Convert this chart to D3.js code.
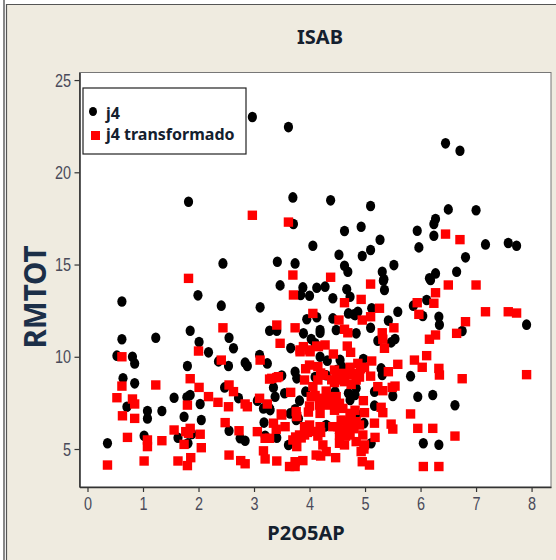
<!DOCTYPE html>
<html>
<head>
<meta charset="utf-8">
<script src="https://cdn.jsdelivr.net/npm/d3@7"></script>
<style>
  html, body { margin: 0; padding: 0; background: #fff; }
  svg { display: block; }
  .tick text { font-family: "Liberation Sans", sans-serif; font-size: 19px; fill: #4a4a5a; }
  .lab { font-family: "Noto Sans", "Open Sans", sans-serif; font-weight: 700; fill: #14202e; }
</style>
</head>
<body>
<main></main>
<script>
// P2O5AP, RMTOT pairs
const j4 = [
  [0.36,5.31],[0.62,13.0],[0.62,10.95],[0.53,10.06],[0.81,10.0],[0.85,9.64],[0.64,8.83],[0.85,8.56],[0.71,7.29],[1.08,7.06],
  [1.08,6.66],[1.34,7.06],[1.02,5.72],[1.23,11.03],[1.56,7.78],[1.63,5.61],[1.74,6.75],[1.80,9.5],[1.85,11.41],[1.85,7.93],
  [1.79,7.8],[1.88,5.81],[1.81,5.31],[2.03,7.44],[2.05,6.57],[2.01,10.8],[1.99,13.33],[2.18,10.24],[2.36,9.75],[2.41,12.77],
  [2.55,11.03],[2.63,10.46],[2.54,9.5],[2.47,8.34],[2.72,7.76],[2.55,5.99],[2.75,5.58],[2.84,5.45],[2.84,9.68],[2.88,9.5],
  [3.11,12.68],[3.10,10.09],[3.24,9.64],[3.28,11.41],[3.41,11.41],[3.35,8.34],[3.38,7.83],[3.06,7.62],[3.17,7.2],[3.28,7.2],
  [3.18,6.43],[3.2,5.72],[3.41,5.61],[1.82,18.4],[2.97,23.0],[2.44,15.06],[3.42,15.15],[3.62,22.45],[6.45,21.57],[6.71,21.17],
  [3.70,18.64],[4.38,18.48],[5.10,18.17],[6.50,17.99],[7.0,17.94],[6.27,17.47],[6.24,17.2],[5.94,16.83],[6.24,16.56],[5.97,15.93],
  [7.17,16.09],[7.58,16.17],[7.73,16.02],[6.81,15.39],[6.65,14.61],[6.27,14.52],[6.16,14.25],[3.71,17.2],[4.63,16.82],[4.93,17.05],
  [4.06,16.02],[5.27,16.34],[5.10,15.79],[4.95,15.46],[4.53,15.53],[5.52,14.97],[4.63,14.93],[4.69,14.61],[5.31,14.61],[5.34,14.2],
  [3.74,15.06],[3.47,13.87],[3.88,13.76],[3.84,13.35],[4.0,13.31],[4.13,13.74],[4.28,13.8],[4.42,13.17],[4.67,13.66],[4.73,13.25],
  [3.95,12.03],[4.13,12.14],[4.42,12.08],[4.70,12.35],[4.82,12.26],[4.19,11.45],[3.89,11.27],[4.19,11.3],[4.03,10.96],[3.66,10.47],
  [4.1,10.73],[4.19,10.0],[4.32,9.79],[4.55,9.83],[4.58,9.47],[3.5,8.98],[3.74,9.19],[3.77,8.83],[3.55,8.02],[3.93,8.11],
  [4.46,8.11],[4.7,8.02],[4.73,7.66],[4.82,7.93],[3.29,7.11],[3.82,7.62],[3.65,6.93],[3.74,7.15],[3.8,6.66],[3.62,5.22],
  [4.28,6.22],[6.18,14.16],[5.35,13.62],[5.59,12.44],[5.12,12.63],[4.87,12.44],[4.80,12.3],[5.42,11.96],[5.87,12.77],[6.11,13.08],
  [6.04,12.21],[6.33,12.17],[6.34,11.74],[6.75,11.4],[7.91,11.74],[5.10,11.57],[4.48,11.45],[4.84,11.27],[5.23,10.87],[5.54,10.96],
  [5.47,10.78],[4.97,9.88],[5.29,9.37],[5.31,9.01],[5.82,8.95],[4.84,8.29],[5.17,8.11],[5.5,7.87],[5.95,7.83],[6.22,7.93],
  [6.62,7.37],[5.17,7.35],[3.76,6.57],[4.84,6.93],[4.3,6.3],[4.98,6.4],[5.11,5.31],[6.05,5.31],[6.33,5.23],[4.54,5.85],
  [5.33,14.12],[4.3,9.0],[4.5,9.3],[4.1,8.9]
];

const j4Transformado = [
  [0.36,4.13],[0.62,10.0],[0.53,7.78],[0.62,8.41],[0.63,6.8],[0.72,5.63],[0.81,7.71],[0.85,7.44],[0.85,6.66],[1.02,4.35],
  [1.08,5.49],[1.08,5.13],[1.23,8.47],[1.34,5.45],[1.56,6.03],[1.63,4.35],[1.74,5.25],[1.80,7.38],[1.85,8.81],[1.77,5.94],
  [1.85,6.12],[1.82,5.85],[1.86,4.53],[1.80,4.1],[2.0,10.31],[2.01,8.34],[2.03,5.8],[2.05,5.07],[2.18,7.84],[2.35,7.53],
  [2.41,9.82],[2.44,11.57],[2.55,8.47],[2.63,8.11],[2.54,7.29],[2.48,6.43],[2.73,5.99],[2.55,4.67],[2.76,4.37],[2.84,4.2],
  [2.84,7.44],[2.88,7.29],[3.11,9.82],[3.1,7.75],[3.24,7.44],[3.06,5.94],[3.17,4.9],[3.2,4.46],[3.2,5.58],[3.28,5.58],
  [3.41,11.72],[3.47,10.73],[3.28,8.79],[3.41,8.87],[3.41,4.35],[3.35,6.4],[3.4,6.07],[3.5,6.84],[2.97,17.67],[1.82,14.25],
  [3.62,17.3],[6.45,16.65],[6.71,16.35],[3.7,14.43],[4.38,14.31],[5.10,13.94],[6.5,13.89],[7.0,13.89],[6.27,13.47],[6.24,12.9],
  [5.94,12.93],[5.97,12.3],[7.17,12.44],[7.58,12.44],[7.73,12.37],[6.81,11.9],[6.65,11.27],[6.27,11.18],[6.16,10.95],[5.52,11.57],
  [5.26,12.63],[5.1,12.17],[4.95,11.99],[4.93,13.11],[4.63,12.93],[4.53,11.99],[4.63,11.49],[4.69,11.3],[5.31,11.3],[5.32,10.95],
  [5.35,10.46],[4.68,10.58],[4.74,10.24],[4.06,12.35],[3.71,13.35],[3.74,11.57],[3.83,10.37],[4.0,10.37],[4.13,10.58],[4.28,10.64],
  [4.43,10.15],[5.12,9.77],[4.87,9.64],[4.99,9.43],[4.73,9.43],[5.59,9.59],[5.42,9.19],[5.89,9.82],[6.11,10.06],[6.03,9.43],
  [6.33,9.37],[6.34,9.01],[6.75,8.81],[7.91,9.03],[5.10,8.95],[4.45,9.28],[4.0,9.55],[4.15,9.47],[3.91,8.74],[4.15,8.74],
  [4.06,8.38],[4.2,9.12],[4.48,8.92],[4.54,8.74],[4.63,8.65],[4.69,9.01],[4.81,9.1],[4.84,8.74],[5.23,8.38],[5.32,8.16],
  [5.49,8.34],[5.54,8.41],[3.66,8.07],[4.3,8.14],[4.03,7.84],[4.18,7.75],[4.33,7.84],[4.48,7.84],[4.54,7.48],[4.97,7.62],
  [4.0,7.33],[4.18,7.38],[4.33,7.38],[5.82,6.9],[5.95,6.12],[6.22,6.12],[6.62,5.7],[5.29,7.26],[5.32,6.97],[4.99,6.97],
  [5.47,6.35],[5.5,6.08],[5.17,6.4],[5.18,5.63],[3.76,7.03],[3.77,6.76],[3.49,6.9],[3.56,6.21],[4.19,6.93],[4.19,6.21],
  [4.73,6.93],[4.84,6.48],[4.72,6.48],[4.57,6.57],[4.0,6.3],[3.91,6.21],[4.42,6.21],[4.51,6.21],[3.82,5.76],[3.7,5.49],
  [3.77,5.13],[3.91,5.76],[4.15,5.7],[4.54,5.76],[4.63,5.22],[4.54,5.31],[4.73,5.76],[4.84,5.4],[4.96,5.76],[4.99,5.22],
  [4.93,4.86],[4.95,4.31],[5.08,4.13],[4.24,5.22],[4.3,4.86],[4.12,4.67],[4.2,4.62],[4.47,4.53],[3.64,4.05],[3.74,4.31],
  [3.74,4.05],[3.88,4.37],[6.05,4.05],[6.33,4.05],[3.89,10.55],[3.83,10.27],[4.01,10.27],[4.16,10.55],[3.32,8.83],[3.44,8.92],
  [4.45,8.6],[4.6,9.1],[4.75,8.5],[4.9,8.9],[4.92,9.35],[4.4,8.75],[4.1,7.9],[4.25,7.6],[4.4,7.5],[4.6,7.2],
  [3.98,7.0],[3.96,5.9],[4.07,5.95],[4.82,7.1],[4.9,6.3],[4.67,6.1],[4.65,5.7],[4.8,6.1],[4.98,5.0],[3.85,5.6],
  [3.75,5.65],[4.2,5.9],[4.45,7.1],[4.6,6.0],[4.75,6.7],[3.93,9.35],[4.25,9.0]
];

const xTicks = [0, 1, 2, 3, 4, 5, 6, 7, 8];
const yTicks = [5, 10, 15, 20, 25];
const legendLabels = ['j4', 'j4 transformado'];

const width = 556, height = 560;
const svg = d3.select('main').append('svg')
    .attr('width', width)
    .attr('height', height);

// window frame around the beige panel
svg.append('rect').attr('x', 7).attr('y', 5).attr('width', width - 7).attr('height', height - 5).attr('fill', '#efebe0');
svg.append('path').attr('d', 'M4,0V560').attr('stroke', '#3a3a3a').attr('stroke-width', 1.2).attr('fill', 'none');
svg.append('path').attr('d', 'M6.5,560V4.5H556').attr('stroke', '#555').attr('stroke-width', 1.2).attr('fill', 'none');

const x = d3.scaleLinear().domain([-0.144, 8.35]).range([79.5, 551]);
const y = d3.scaleLinear().domain([2.94, 25.41]).range([487, 72.5]);

// plot area
svg.append('rect')
    .attr('x', x.range()[0]).attr('y', y.range()[1])
    .attr('width', x.range()[1] - x.range()[0])
    .attr('height', y.range()[0] - y.range()[1])
    .attr('fill', '#fff')
    .attr('stroke', '#777')
    .attr('stroke-width', 1);

const xAxis = svg.append('g')
    .attr('transform', `translate(0,${y.range()[0]})`)
    .call(d3.axisBottom(x).tickValues(xTicks).tickSize(5).tickSizeOuter(0).tickPadding(5));
const yAxis = svg.append('g')
    .attr('transform', `translate(${x.range()[0]},0)`)
    .call(d3.axisLeft(y).tickValues(yTicks).tickSize(5).tickSizeOuter(0).tickPadding(6));
[xAxis, yAxis].forEach(a => {
    a.select('.domain').attr('stroke', '#333').attr('stroke-width', 1.6);
    a.selectAll('.tick line').attr('stroke', '#333').attr('stroke-width', 1.2);
    // the original digits are tall and narrow
    a.selectAll('.tick text').attr('transform', 'scale(0.76,1)');
});

// points, black first so the red ones sit on top
svg.append('g').selectAll('ellipse')
    .data(j4)
    .enter()
    .append('ellipse')
    .attr('cx', d => x(d[0]))
    .attr('cy', d => y(d[1]))
    .attr('rx', 4.6)
    .attr('ry', 5.3)
    .attr('fill', '#000');

const sq = 9.4;
svg.append('g').selectAll('rect')
    .data(j4Transformado)
    .enter()
    .append('rect')
    .attr('x', d => x(d[0]) - sq / 2)
    .attr('y', d => y(d[1]) - sq / 2)
    .attr('width', sq)
    .attr('height', sq)
    .attr('fill', '#f00');

// legend
svg.append('rect')
    .attr('x', 83).attr('y', 88).attr('width', 163).attr('height', 66)
    .attr('fill', '#fff').attr('stroke', '#222').attr('stroke-width', 1.2);
svg.append('ellipse').attr('cx', 93).attr('cy', 111.5).attr('rx', 4).attr('ry', 4.6).attr('fill', '#000');
svg.append('rect').attr('x', 91).attr('y', 131).attr('width', 9).attr('height', 9).attr('fill', '#f00');
legendLabels.forEach((t, i) => {
    svg.append('text').attr('class', 'lab')
        .attr('x', 106).attr('y', i ? 140 : 119)
        .attr('font-size', 16)
        .text(t);
});

// titles
svg.append('text').attr('class', 'lab')
    .attr('x', 320).attr('y', 44).attr('text-anchor', 'middle').attr('font-size', 20).text('ISAB');
svg.append('text').attr('class', 'lab')
    .attr('x', 306).attr('y', 540).attr('text-anchor', 'middle').attr('font-size', 20).text('P2O5AP');
svg.append('text').attr('class', 'lab')
    .attr('transform', 'translate(46,297) rotate(-90)')
    .attr('text-anchor', 'middle').attr('font-size', 29.5)
    .style('fill', '#1c2f48')
    .text('RMTOT');
</script>
</body>
</html>
